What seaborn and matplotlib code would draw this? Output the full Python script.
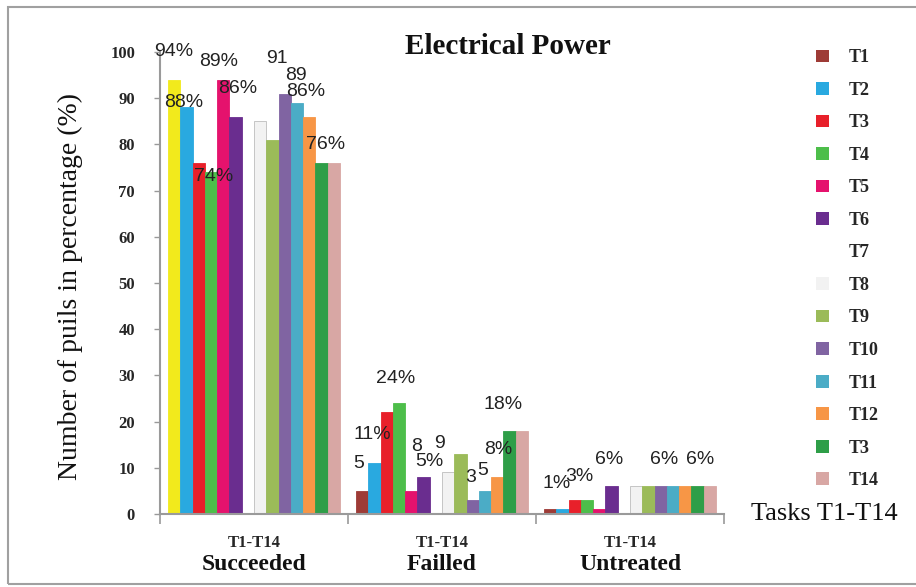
import matplotlib
matplotlib.use("Agg")
import matplotlib.pyplot as plt
import matplotlib.transforms as mtransforms
from matplotlib.patches import Patch, Rectangle
import seaborn as sns
import pandas as pd

# ---------------- data ----------------
categories = ["Succeeded", "Failled", "Untreated"]
tasks = ["T1", "T2", "T3", "T4", "T5", "T6", "T7", "T8", "T9", "T10", "T11", "T12", "T13", "T14"]
legend_labels = ["T1", "T2", "T3", "T4", "T5", "T6", "T7", "T8", "T9", "T10", "T11", "T12", "T3", "T14"]
succeeded = [94, 88, 76, 74, 94, 86, 0, 85, 81, 91, 89, 86, 76, 76]
failled = [5, 11, 22, 24, 5, 8, 0, 9, 13, 3, 5, 8, 18, 18]
untreated = [1, 1, 3, 3, 1, 6, 0, 6, 6, 6, 6, 6, 6, 6]
colors = ["#9E3B36", "#29A9E0", "#E8202A", "#4DBE4A", "#E5126D", "#6A2D8F", "#FFFFFF",
          "#F2F2F2", "#9BBB59", "#8064A2", "#4BACC6", "#F79646", "#2E9E48", "#D8A7A4"]
first_bar_color = "#F2EA1C"
y_ticks = [0, 10, 20, 30, 40, 50, 60, 70, 80, 90, 100]

# value labels: (group index, bar position in group, text, y)
value_labels = [
    (0, 0.0, "94%", 100), (0, 0.8, "88%", 89), (0, 3.6, "89%", 98), (0, 5.2, "86%", 92),
    (0, 3.2, "74%", 73), (0, 8.4, "91", 98.5), (0, 9.9, "89", 95), (0, 10.7, "86%", 91.5),
    (0, 12.3, "76%", 80),
    (1, 2.75, "24%", 29.4), (1, 0.8, "11%", 17.3), (1, -0.3, "5", 11), (1, 4.4, "8", 14.6),
    (1, 6.3, "9", 15.2), (1, 5.5, "5%", 11.3), (1, 8.8, "3", 7.8), (1, 9.8, "5", 9.5),
    (1, 11.1, "8%", 13.9), (1, 11.5, "18%", 23.8),
    (2, 0.5, "1%", 6.5), (2, 2.4, "3%", 8.2), (2, 4.8, "6%", 11.7), (2, 9.3, "6%", 11.7),
    (2, 12.2, "6%", 11.7),
]

rows = []
for cat, vals in zip(categories, [succeeded, failled, untreated]):
    for t, v in zip(tasks, vals):
        rows.append({"category": cat, "task": t, "value": v})
df = pd.DataFrame(rows)

# ---------------- plot ----------------
sns.set_theme(style="white")
plt.rcParams["font.family"] = ["Liberation Serif", "DejaVu Serif"]

fig = plt.figure(figsize=(9.16, 5.87), dpi=100)
ax = fig.add_axes([160 / 916, 1 - 514 / 587, 564 / 916, 462 / 587])

group_w = 0.915
sns.barplot(data=df, x="category", y="value", hue="task", order=categories,
            hue_order=tasks, palette=colors, width=group_w, gap=0, saturation=1,
            linewidth=0.6, edgecolor="none", legend=False, ax=ax)

for i, cont in enumerate(ax.containers):
    for bar in cont:
        if i == 7:
            bar.set_edgecolor("#BDBDBD")
        elif i != 6:
            bar.set_edgecolor(colors[i])
ax.containers[0][0].set_facecolor(first_bar_color)
ax.containers[0][0].set_edgecolor(first_bar_color)

ax.set_xlim(-0.5, 2.5)
ax.set_ylim(0, 100)
ax.set_yticks(y_ticks)
ax.set_yticklabels([str(v) for v in y_ticks], fontweight="bold", fontsize=12)
ax.tick_params(axis="y", left=True, length=4, width=1, color="#999999", pad=14)
ax.set_xticks(range(len(categories)))
ax.set_xticklabels(["T1-T14"] * len(categories), fontweight="bold", fontsize=12)
ax.tick_params(axis="x", bottom=False, length=0, pad=15)
ax.set_xticks([-0.5, 0.5, 1.5, 2.5], minor=True)
ax.tick_params(axis="x", which="minor", bottom=True, length=7, width=1.2, color="#999999")
ax.set_xlabel("")
ax.set_ylabel("")
for s in ["top", "right"]:
    ax.spines[s].set_visible(False)
for s in ["left", "bottom"]:
    ax.spines[s].set_color("#9A9A9A")
    ax.spines[s].set_linewidth(1.5)

trans = mtransforms.blended_transform_factory(ax.transData, ax.transAxes)
for g, cat in enumerate(categories):
    ax.text(g, -0.11, cat, transform=trans, ha="center", va="center",
            fontsize=17, fontweight="bold", color="#111111")

bw = group_w / len(tasks)
for g, k, txt, y in value_labels:
    x = g - group_w / 2 + (k + 0.5) * bw
    ax.text(x, y, txt, ha="center", va="center", fontsize=14,
            family=["Liberation Sans", "DejaVu Sans"], color="#222222", clip_on=False)

ax.text(1.048, 0.0, "Tasks T1-T14", transform=ax.transAxes, ha="left", va="center",
        fontsize=19, color="#111111")

fig.text(508 / 916, 1 - 47 / 587, "Electrical Power", ha="center", va="center",
         fontsize=21, fontweight="bold", color="#111111")
fig.text(70 / 916, 1 - 287 / 587, "Number of puils in percentage (%)", ha="center",
         va="center", rotation=90, fontsize=20, color="#111111")

handles = [Patch(facecolor=c, edgecolor="none") for c in colors]
leg = fig.legend(handles, legend_labels, loc="upper left",
                 bbox_to_anchor=(800 / 916, 1 - 33 / 587), frameon=False,
                 handlelength=0.7, handleheight=0.7, handletextpad=1.1,
                 labelspacing=0.86, prop={"family": "Liberation Serif", "weight": "bold", "size": 13})

fig.patches.append(Rectangle((8 / 916, 3 / 587), 1.2, 1 - 10 / 587, transform=fig.transFigure,
                             fill=False, edgecolor="#A0A0A0", linewidth=1.5))

fig.savefig("out.png", dpi=100)
